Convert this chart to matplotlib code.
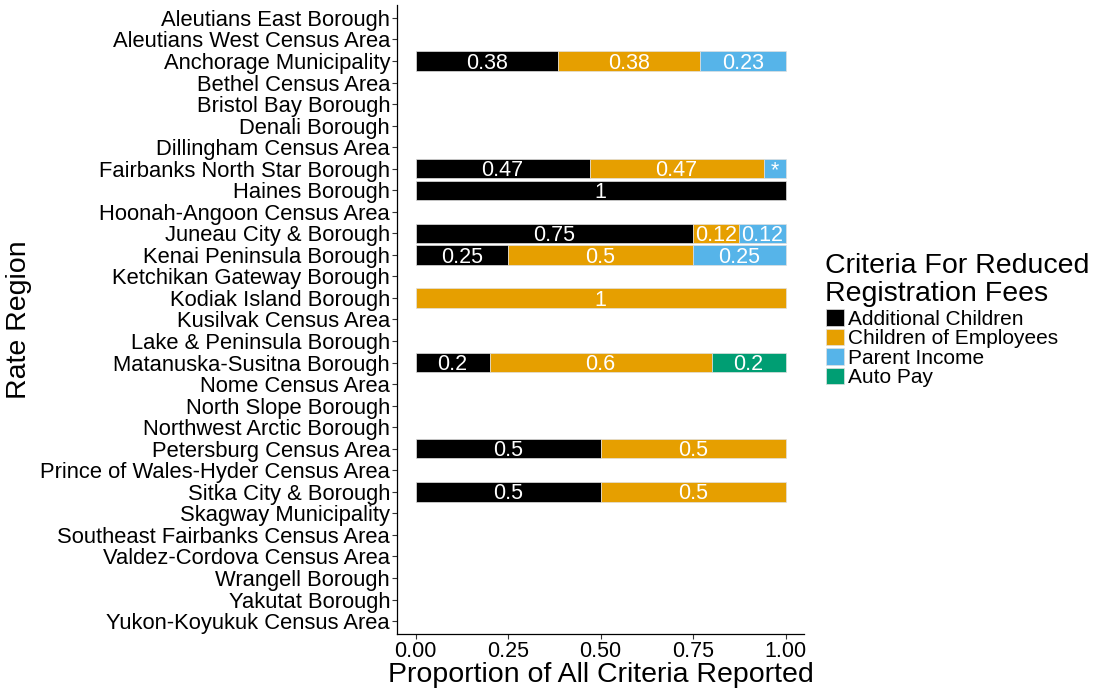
import matplotlib
matplotlib.use("Agg")
import matplotlib.pyplot as plt
from matplotlib.patches import Patch

plt.rcParams['font.family'] = ['Liberation Sans', 'DejaVu Sans']

regions = [
    "Aleutians East Borough", "Aleutians West Census Area", "Anchorage Municipality",
    "Bethel Census Area", "Bristol Bay Borough", "Denali Borough", "Dillingham Census Area",
    "Fairbanks North Star Borough", "Haines Borough", "Hoonah-Angoon Census Area",
    "Juneau City & Borough", "Kenai Peninsula Borough", "Ketchikan Gateway Borough",
    "Kodiak Island Borough", "Kusilvak Census Area", "Lake & Peninsula Borough",
    "Matanuska-Susitna Borough", "Nome Census Area", "North Slope Borough",
    "Northwest Arctic Borough", "Petersburg Census Area", "Prince of Wales-Hyder Census Area",
    "Sitka City & Borough", "Skagway Municipality", "Southeast Fairbanks Census Area",
    "Valdez-Cordova Census Area", "Wrangell Borough", "Yakutat Borough",
    "Yukon-Koyukuk Census Area",
]

criteria = ["Additional Children", "Children of Employees", "Parent Income", "Auto Pay"]
colors = ["#000000", "#E69F00", "#56B4E9", "#009E73"]
legend_title = "Criteria For Reduced\nRegistration Fees"

# proportion per region for each criterion (0 = none)
additional_children = {
    "Anchorage Municipality": 0.3846, "Fairbanks North Star Borough": 0.4706,
    "Haines Borough": 1.0, "Juneau City & Borough": 0.75, "Kenai Peninsula Borough": 0.25,
    "Matanuska-Susitna Borough": 0.2, "Petersburg Census Area": 0.5,
    "Sitka City & Borough": 0.5,
}
children_of_employees = {
    "Anchorage Municipality": 0.3846, "Fairbanks North Star Borough": 0.4706,
    "Juneau City & Borough": 0.125, "Kenai Peninsula Borough": 0.5,
    "Kodiak Island Borough": 1.0, "Matanuska-Susitna Borough": 0.6,
    "Petersburg Census Area": 0.5, "Sitka City & Borough": 0.5,
}
parent_income = {
    "Anchorage Municipality": 0.2308, "Fairbanks North Star Borough": 0.0588,
    "Juneau City & Borough": 0.125, "Kenai Peninsula Borough": 0.25,
}
auto_pay = {
    "Matanuska-Susitna Borough": 0.2,
}
series = [additional_children, children_of_employees, parent_income, auto_pay]

fig = plt.figure(figsize=(10.94, 6.88), dpi=100)
ax = fig.add_axes([397 / 1094, 1 - 634 / 688, (804 - 397) / 1094, (634 - 5) / 688])

ypos = list(range(len(regions)))
left = [0.0] * len(regions)

def fmt(v):
    if v < 0.1:
        return "*"
    return f"{round(v, 2):g}"

for s, c in zip(series, colors):
    vals = [s.get(r, 0.0) for r in regions]
    idx = [i for i, v in enumerate(vals) if v > 0]
    ax.barh([ypos[i] for i in idx], [vals[i] for i in idx], left=[left[i] for i in idx],
            height=0.9, color=c, edgecolor="#e0e0e0", linewidth=0.5)
    for i in idx:
        v = vals[i]
        ax.text(left[i] + v / 2, ypos[i] + 0.1, fmt(v), color="white",
                ha="center", va="center", fontsize=15.5)
    left = [l + v for l, v in zip(left, vals)]

ax.set_ylim(len(regions) - 0.4, -0.6)
ax.set_xlim(-0.05, 1.05)
ax.set_yticks(ypos)
ax.set_yticklabels(regions, fontsize=15.8)
ax.set_xticks([0, 0.25, 0.5, 0.75, 1.0])
ax.set_xticklabels(["0.00", "0.25", "0.50", "0.75", "1.00"], fontsize=15.5)
ax.tick_params(axis="both", length=3.5, width=0.8, color="#333333", pad=1.5)
for sp in ["top", "right"]:
    ax.spines[sp].set_visible(False)
for sp in ["left", "bottom"]:
    ax.spines[sp].set_linewidth(0.9)
ax.set_xlabel("Proportion of All Criteria Reported", fontsize=20.5, labelpad=0)
ax.set_ylabel("Rate Region", fontsize=20.5, labelpad=6)

fig.text(825 / 1094, 1 - 253 / 688, legend_title, fontsize=20.5, ha="left", va="top",
         linespacing=1.08)
handles = [Patch(facecolor=c, edgecolor="#e0e0e0", linewidth=0.5) for c in colors]
leg = fig.legend(handles, criteria, loc="upper left", bbox_to_anchor=(822 / 1094, 1 - 305 / 688),
                 fontsize=15, frameon=False, handlelength=0.85, handleheight=0.85,
                 handletextpad=0.2, labelspacing=0.0, borderaxespad=0, borderpad=0.2)

fig.savefig("out.png", dpi=100)
